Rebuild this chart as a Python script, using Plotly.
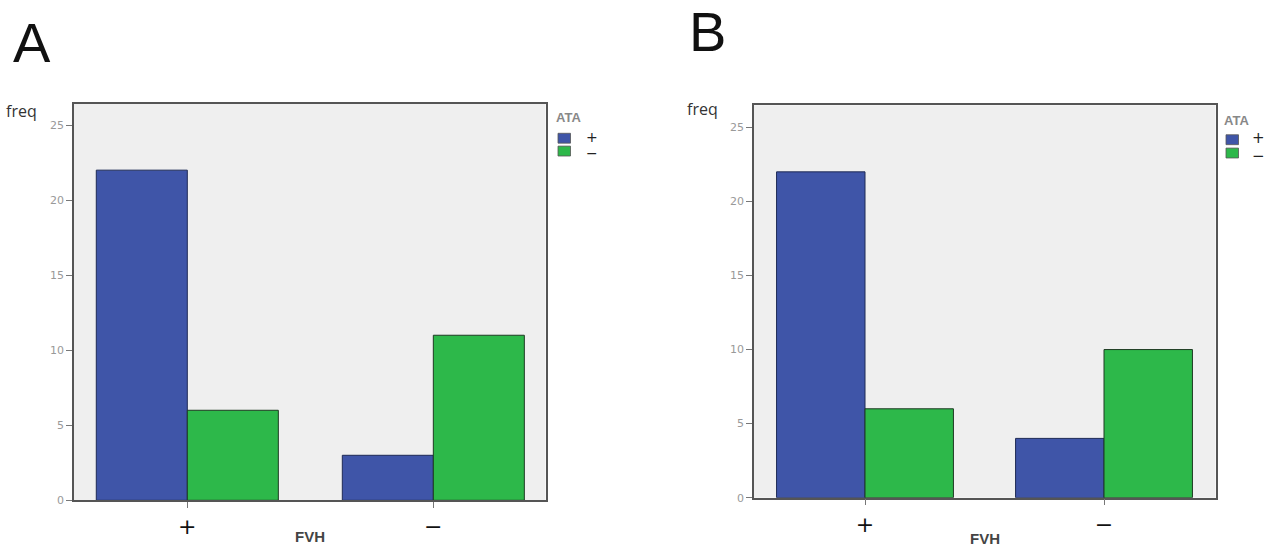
import plotly.graph_objects as go

# ---- data ----
categories = ["+", "−"]
series_names = ["+", "−"]           # ATA groups
panel_A_pos = [22, 3]               # ATA + counts for FVH +, −
panel_A_neg = [6, 11]               # ATA − counts
panel_B_pos = [22, 4]
panel_B_neg = [6, 10]
y_ticks = [0, 5, 10, 15, 20, 25]

BLUE = "#3f55a8"
GREEN = "#2db84a"
W, H = 1280, 555

def px(xp): return xp / W
def py(yp): return 1 - yp / H

fig = go.Figure()
x_idx = [0, 1]

def add_panel(xa, ya, pos, neg):
    fig.add_trace(go.Bar(x=x_idx, y=pos, name=series_names[0], marker_color=BLUE,
                         marker_line=dict(color="#1e2a55", width=1),
                         xaxis=xa, yaxis=ya, showlegend=False, offsetgroup="p"))
    fig.add_trace(go.Bar(x=x_idx, y=neg, name=series_names[1], marker_color=GREEN,
                         marker_line=dict(color="#1e3a22", width=1),
                         xaxis=xa, yaxis=ya, showlegend=False, offsetgroup="n"))

add_panel("x", "y", panel_A_pos, panel_A_neg)
add_panel("x2", "y2", panel_B_pos, panel_B_neg)

axis_common_x = dict(tickmode="array", tickvals=x_idx, ticktext=categories,
                     ticks="outside", ticklen=6, tickcolor="#777",
                     tickfont=dict(size=22, color="#111", family="DejaVu Sans"),
                     showline=True, linecolor="#555", linewidth=1.5, mirror=True,
                     showgrid=False, zeroline=False, fixedrange=True)
axis_common_y = dict(tickmode="array", tickvals=y_ticks, ticktext=[str(v) for v in y_ticks],
                     ticks="outside", ticklen=6, tickcolor="#777",
                     tickfont=dict(size=11, color="#999", family="DejaVu Sans"),
                     showline=True, linecolor="#555", linewidth=1.5, mirror=True,
                     showgrid=False, zeroline=False, fixedrange=True)

fig.update_layout(
    width=W, height=H,
    margin=dict(l=0, r=0, t=0, b=0),
    paper_bgcolor="white", plot_bgcolor="#efefef",
    barmode="group", bargap=0.26, bargroupgap=0,
    xaxis=dict(domain=[px(74), px(545.5)], range=[-0.4606, 1.456], anchor="y", **axis_common_x),
    yaxis=dict(domain=[py(506.7), py(105)], range=[0, 26.43], anchor="x", **axis_common_y),
    xaxis2=dict(domain=[px(754), px(1215.5)], range=[-0.4644, 1.4665], anchor="y2", **axis_common_x),
    yaxis2=dict(domain=[py(504), py(106.7)], range=[0, 26.49], anchor="x2", **axis_common_y),
    font=dict(family="DejaVu Sans"),
)

annos = []
shapes = []
panels = [
    # letter, letter x/y, freq x/y, fvh x/y, ATA x/y, square x, square y's, label x, label y's, label font
    ("A", 32, 43, 4, 112, 310, 543, 554, 119, 558, (140, 153), 584, (139, 155), 14),
    ("B", 707.5, 32, 685, 110, 985, 545, 1222, 122, 1226, (141.5, 155), 1250, (140, 157.5), 15),
]
for (letter, lx, ly, fx, fy, fvhx, fvhy, ax, ay, sx, sys_, labx, lys, labf) in panels:
    annos.append(dict(text=letter, x=px(lx), y=py(ly), xref="paper", yref="paper",
                      xanchor="center", yanchor="middle",
                      showarrow=False, font=dict(size=56, color="#111", family="Liberation Sans")))
    annos.append(dict(text="freq", x=px(fx), y=py(fy), xref="paper", yref="paper",
                      xanchor="left", yanchor="middle",
                      showarrow=False, font=dict(size=16, color="#333", family="Open Sans")))
    annos.append(dict(text="<b>FVH</b>", x=px(fvhx), y=py(fvhy), xref="paper", yref="paper",
                      xanchor="center", yanchor="middle",
                      showarrow=False, font=dict(size=15, color="#444", family="Liberation Sans")))
    annos.append(dict(text="<b>ATA</b>", x=px(ax), y=py(ay), xref="paper", yref="paper",
                      xanchor="left", yanchor="middle",
                      showarrow=False, font=dict(size=13, color="#888", family="Liberation Sans")))
    for col, cy in zip([BLUE, GREEN], sys_):
        shapes.append(dict(type="rect", xref="paper", yref="paper",
                           x0=px(sx), x1=px(sx + 12.5), y0=py(cy - 5), y1=py(cy + 5),
                           fillcolor=col, line=dict(color="#555", width=0.8)))
    for lab, ly_ in zip(series_names, lys):
        annos.append(dict(text=lab, x=px(labx), y=py(ly_), xref="paper", yref="paper",
                          xanchor="left", yanchor="middle",
                          showarrow=False, font=dict(size=labf, color="#222", family="DejaVu Sans")))

fig.update_layout(annotations=annos, shapes=shapes)
fig.write_html("out.html", config={"displayModeBar": False},
               post_script="document.body.style.margin='0';document.body.style.overflow='hidden';")
